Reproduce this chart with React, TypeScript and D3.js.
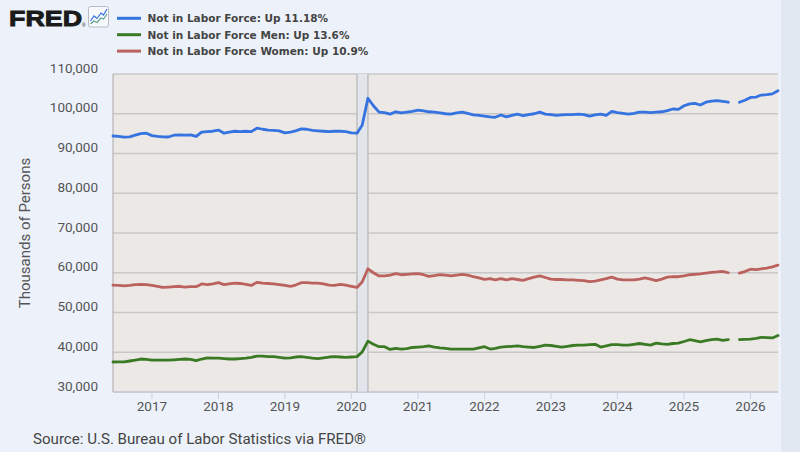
import React from "react";
import * as d3 from "d3";

const startYear = 2016;
const startMonth = 5; // June (0-based)

const totalValues: (number | null)[] = [
  94.4, 94.3, 94.1, 94.2, 94.6, 95.0, 95.1,
  94.5, 94.3, 94.2, 94.15, 94.6, 94.7, 94.6, 94.7, 94.3, 95.4, 95.5, 95.6,
  95.9, 95.1, 95.4, 95.6, 95.5, 95.6, 95.5, 96.4, 96.1, 95.9, 95.8, 95.7,
  95.2, 95.4, 95.7, 96.2, 96.1, 95.8, 95.7, 95.6, 95.5, 95.6, 95.6, 95.5,
  95.2, 95.1, 97.2, 103.9, 102.0, 100.4, 100.3, 99.9, 100.5, 100.2, 100.4, 100.6,
  100.9, 100.7, 100.5, 100.4, 100.2, 100.0, 99.9, 100.2, 100.4, 100.1, 99.7, 99.6,
  99.4, 99.2, 99.1, 99.7, 99.2, 99.6, 99.9, 99.5, 99.8, 100.0, 100.4, 99.9,
  99.8, 99.6, 99.7, 99.8, 99.8, 99.9, 99.8, 99.4, 99.7, 99.9, 99.6, 100.6,
  100.3, 100.1, 99.9, 100.1, 100.4, 100.4, 100.3, 100.4, 100.5, 100.8, 101.2, 101.1,
  102.0, 102.5, 102.6, 102.2, 102.9, 103.2, 103.3, 103.1, 102.9, null, 102.9, 103.4,
  104.1, 104.2, 104.7, 104.8, 105.0, 105.8,
];

const menValues: (number | null)[] = [
  37.55, 37.6, 37.6, 37.8, 38.0, 38.3, 38.2,
  38.0, 38.0, 38.0, 38.0, 38.1, 38.2, 38.3, 38.2, 37.9, 38.3, 38.6, 38.5,
  38.5, 38.4, 38.3, 38.3, 38.4, 38.5, 38.7, 39.05, 39.0, 38.9, 38.9, 38.7,
  38.5, 38.6, 38.8, 38.9, 38.7, 38.5, 38.4, 38.6, 38.8, 38.9, 38.8, 38.7,
  38.8, 38.9, 40.1, 42.8, 42.0, 41.4, 41.4, 40.7, 41.0, 40.8, 40.9, 41.2,
  41.3, 41.4, 41.6, 41.3, 41.1, 41.0, 40.8, 40.8, 40.8, 40.8, 40.8, 41.1,
  41.4, 40.8, 41.0, 41.3, 41.4, 41.5, 41.6, 41.4, 41.3, 41.2, 41.5, 41.8,
  41.7, 41.5, 41.3, 41.5, 41.7, 41.8, 41.8, 41.9, 42.0, 41.3, 41.6, 41.9,
  41.9, 41.8, 41.8, 42.0, 42.2, 42.0, 41.8, 42.3, 42.1, 42.0, 42.2, 42.3,
  42.7, 43.15, 42.9, 42.6, 42.9, 43.15, 43.3, 43.0, 43.15, null, 43.2, 43.25,
  43.3, 43.5, 43.75, 43.7, 43.6, 44.2,
];

const womenValues: (number | null)[] = [
  56.9, 56.8, 56.7, 56.8, 57.0, 57.1, 57.0,
  56.8, 56.6, 56.3, 56.4, 56.5, 56.6, 56.4, 56.5, 56.5, 57.2, 57.0, 57.2,
  57.5, 57.0, 57.2, 57.4, 57.3, 57.1, 56.8, 57.6, 57.4, 57.3, 57.2, 57.0,
  56.8, 56.6, 56.9, 57.5, 57.5, 57.4, 57.4, 57.2, 56.9, 56.8, 57.1, 56.9,
  56.6, 56.3, 57.75, 61.0, 60.0, 59.2, 59.2, 59.4, 59.8, 59.5, 59.6, 59.7,
  59.75, 59.5, 59.1, 59.3, 59.5, 59.4, 59.2, 59.4, 59.6, 59.4, 59.0, 58.7,
  58.35, 58.5, 58.2, 58.5, 58.2, 58.5, 58.3, 58.1, 58.5, 58.9, 59.2, 58.8,
  58.4, 58.3, 58.3, 58.2, 58.2, 58.1, 58.0, 57.75, 57.9, 58.2, 58.5, 58.9,
  58.4, 58.2, 58.2, 58.2, 58.4, 58.7, 58.4, 58.0, 58.4, 58.9, 59.0, 59.0,
  59.2, 59.5, 59.6, 59.7, 59.9, 60.1, 60.2, 60.35, 60.0, null, 59.9, 60.3,
  60.9, 60.8, 61.0, 61.15, 61.5, 61.9,
];

const seriesNames = [
  "Not in Labor Force: Up 11.18%",
  "Not in Labor Force Men: Up 13.6%",
  "Not in Labor Force Women: Up 10.9%",
];
const seriesColors = ["#3473e0", "#3b7a24", "#bb625e"];

const yTicks = [30, 40, 50, 60, 70, 80, 90, 100, 110];
const xTickYears = [2017, 2018, 2019, 2020, 2021, 2022, 2023, 2024, 2025, 2026];
const recessions = [["2020-02-01", "2020-04-01"]];

const W = 800;
const H = 452;
const plot = { left: 113, right: 778, top: 74, bottom: 392 };

type Pt = { date: Date; v: number | null };
const toSeries = (vals: (number | null)[]): Pt[] =>
  vals.map((v, i) => ({ date: new Date(Date.UTC(startYear, startMonth + i, 1)), v }));

export default function App() {
  const x = d3
    .scaleUtc()
    .domain([new Date(Date.UTC(2016, 5, 1)), new Date(Date.UTC(2026, 5, 1))])
    .range([plot.left, plot.right]);
  const y = d3.scaleLinear().domain([30, 110]).range([plot.bottom, plot.top]);
  const line = d3
    .line<Pt>()
    .defined((d) => d.v != null)
    .x((d) => x(d.date))
    .y((d) => y(d.v as number));
  const fmt = (v: number) => d3.format(",")(v * 1000);
  const all = [totalValues, menValues, womenValues].map(toSeries);
  const font = "Roboto, 'Noto Sans', sans-serif";

  return (
    <svg
      width={W}
      height={H}
      style={{ position: "absolute", left: 0, top: 0 }}
      xmlns="http://www.w3.org/2000/svg"
    >
      <rect x={0} y={0} width={W} height={H} fill="#edf2fa" />
      <rect x={781} y={0} width={19} height={H} fill="#e2e8f1" />

      {/* Logo */}
      <text
        x={9}
        y={26}
        fontFamily="'Liberation Sans', Arial, sans-serif"
        fontWeight={900}
        fontSize={22.5}
        fill="#1a1a1a"
        stroke="#1a1a1a"
        strokeWidth={0.9}
        textLength={73}
        lengthAdjust="spacingAndGlyphs"
      >
        FRED
      </text>
      <text x={82} y={26.5} fontFamily="'Liberation Sans', sans-serif" fontSize={5} fill="#1a1a1a">
        ®
      </text>
      <rect x={88.5} y={6.5} width={20} height={20.5} rx={2} fill="#f7f9fc" stroke="#b8bcc4" strokeWidth={1} />
      <path d="M90.5,21 L94,16 L97,18.5 L101,13 L103.5,15 L107,9" fill="none" stroke="#3473e0" strokeWidth={1.2} />
      <path d="M90.5,24 L94,21 L97,22.5 L101,18 L103.5,19 L107,14" fill="none" stroke="#62a08e" strokeWidth={1.2} />

      {/* Legend */}
      {seriesNames.map((name, i) => (
        <g key={name}>
          <line x1={117} x2={141} y1={18.3 + i * 16.4} y2={18.3 + i * 16.4} stroke={seriesColors[i]} strokeWidth={3} />
          <text
            x={147.5}
            y={22.2 + i * 16.4}
            fontFamily="'DejaVu Sans', sans-serif"
            fontWeight="bold"
            fontSize={10.5}
            fill="#444"
          >
            {name}
          </text>
        </g>
      ))}

      {/* Plot background */}
      <rect
        x={plot.left}
        y={plot.top}
        width={plot.right - plot.left}
        height={plot.bottom - plot.top}
        fill="#ece8e6"
      />

      {/* Grid */}
      {yTicks.map((t) => (
        <line
          key={t}
          x1={plot.left}
          x2={plot.right}
          y1={y(t)}
          y2={y(t)}
          stroke="#c8c8c8"
          strokeWidth={1.3}
        />
      ))}

      {/* Recession shading */}
      {recessions.map(([a, b]) => {
        const x0 = x(new Date(a));
        const x1 = x(new Date(b));
        return (
          <g key={a}>
            <rect x={x0} y={plot.top} width={x1 - x0} height={plot.bottom - plot.top} fill="#e2e6ec" />
            <line x1={x0} x2={x0} y1={plot.top} y2={plot.bottom} stroke="#b9b9b9" strokeWidth={1.3} />
            <line x1={x1} x2={x1} y1={plot.top} y2={plot.bottom} stroke="#b9b9b9" strokeWidth={1.3} />
          </g>
        );
      })}

      {/* Axes */}
      <line x1={plot.left} x2={plot.left} y1={plot.top} y2={plot.bottom} stroke="#a9a9a9" strokeWidth={1} />
      <line x1={plot.left} x2={plot.right} y1={plot.bottom} y2={plot.bottom} stroke="#c2c9d6" strokeWidth={1.2} />
      {xTickYears.map((yr) => {
        const xx = x(new Date(Date.UTC(yr, 0, 1)));
        return (
          <g key={yr}>
            <line x1={xx} x2={xx} y1={plot.bottom} y2={plot.bottom + 7} stroke="#c8d1df" strokeWidth={1} />
            <text x={xx} y={411} textAnchor="middle" fontFamily={font} fontSize={13.5} fill="#555">
              {yr}
            </text>
          </g>
        );
      })}
      {yTicks.map((t) => (
        <text key={t} x={98} y={y(t) - 1.5} textAnchor="end" fontFamily={font} fontSize={13.5} fill="#555">
          {fmt(t)}
        </text>
      ))}
      <text
        transform={`translate(30,${(plot.top + plot.bottom) / 2}) rotate(-90)`}
        textAnchor="middle"
        fontFamily={font}
        fontSize={15}
        fill="#555"
      >
        Thousands of Persons
      </text>

      {/* Lines */}
      {all.map((s, i) => (
        <path
          key={i}
          d={line(s) || ""}
          fill="none"
          stroke={seriesColors[i]}
          strokeWidth={2.8}
          strokeLinejoin="round"
          strokeLinecap="round"
        />
      ))}

      <text x={33} y={444} fontFamily={font} fontSize={15.1} fill="#444">
        Source: U.S. Bureau of Labor Statistics via FRED®
      </text>
    </svg>
  );
}
